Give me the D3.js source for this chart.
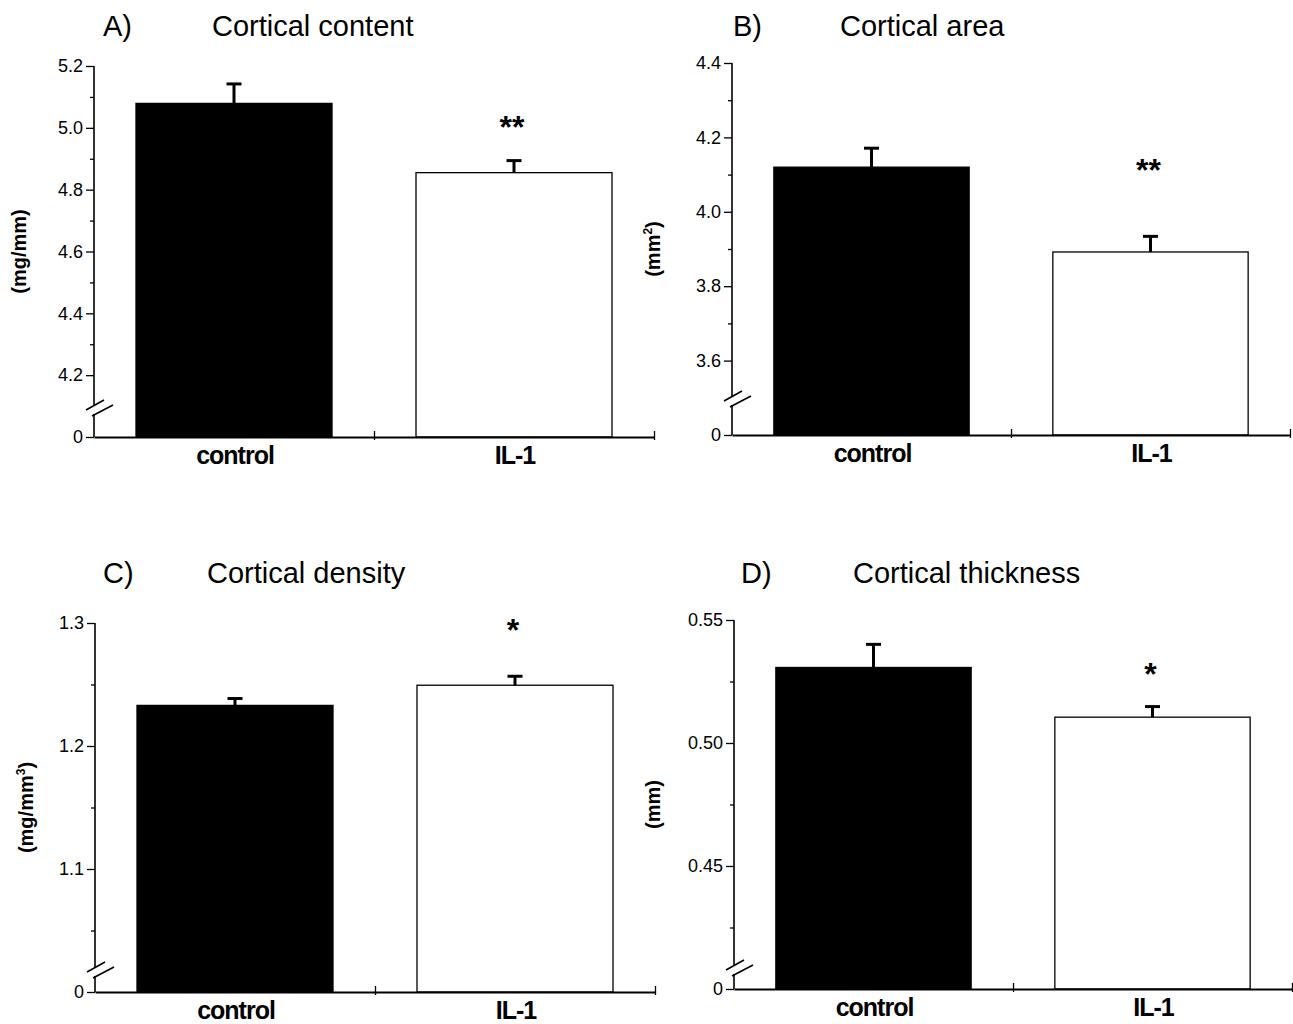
<!DOCTYPE html>
<meta charset="utf-8">
<script src="https://d3js.org/d3.v7.min.js"></script>
<style>
  body { margin: 0; background: #fff; }
  text { font-family: "Liberation Sans", Arial, sans-serif; fill: #000; }
</style>
<div id="fig"></div>
<script>

// groups on the x axis
var groups = ["control", "IL-1"];

// panel headings
var letters = ["A)", "B)", "C)", "D)"];
var titles = ["Cortical content", "Cortical area", "Cortical density", "Cortical thickness"];
var unitBase = ["(mg/mm", "(mm", "(mg/mm", "(mm"];
var unitSup = ["", "2", "3", ""];

// means and SEM (control, IL-1)
var contentMean = [5.079, 4.855], contentSem = [0.063, 0.039];
var areaMean = [4.120, 3.892], areaSem = [0.051, 0.042];
var densityMean = [1.2330, 1.2494], densitySem = [0.0056, 0.0073];
var thickMean = [0.5307, 0.5105], thickSem = [0.0094, 0.0043];

// y axis: broken axis, bottom labelled "0"
var yDomains = [[4.0, 5.2], [3.4, 4.4], [1.0, 1.3], [0.40, 0.55]];
var yTicks = [[4.2, 4.4, 4.6, 4.8, 5.0, 5.2], [3.6, 3.8, 4.0, 4.2, 4.4], [1.1, 1.2, 1.3], [0.45, 0.50, 0.55]];
var yMinor = [[4.3, 4.5, 4.7, 4.9, 5.1], [3.7, 3.9, 4.1, 4.3], [1.05, 1.15, 1.25], [0.425, 0.475, 0.525]];
var tickFormats = [".1f", ".1f", ".1f", ".2f"];

// significance marks over IL-1 and the level they sit at
var sigMarks = ["**", "**", "*", "*"];
var sigLevel = [5.025, 4.132, 1.2998, 0.5307];

var means = [contentMean, areaMean, densityMean, thickMean];
var sems = [contentSem, areaSem, densitySem, thickSem];

// panel frames
var frames = [
  {x0: 94,  x1: 654,  top: 66,  bottom: 437, titleY: 36,  letterX: 103, titleX: 212, unitX: 26,  brk: 28},
  {x0: 732, x1: 1290, top: 63,  bottom: 435, titleY: 36,  letterX: 733, titleX: 840, unitX: 660, brk: 35},
  {x0: 95,  x1: 655,  top: 623, bottom: 992, titleY: 583, letterX: 103, titleX: 207, unitX: 33,  brk: 21},
  {x0: 734, x1: 1292, top: 620, bottom: 989, titleY: 583, letterX: 741, titleX: 853, unitX: 660, brk: 20}
];

var svg = d3.select("#fig")
  .append("svg")
    .attr("width", 1293)
    .attr("height", 1024)
    .style("background", "#fff");

for (var i = 0; i < 4; i++) drawPanel(i);

function drawPanel(i) {
  var f = frames[i];
  var g = svg.append("g");

  var y = d3.scaleLinear().domain(yDomains[i]).range([f.bottom, f.top]);
  var x = d3.scaleBand().domain(groups).range([f.x0, f.x1])
    .paddingInner(0.3).paddingOuter(0.15);

  // titles
  g.append("text")
    .attr("x", f.letterX).attr("y", f.titleY)
    .style("font-size", "29px")
    .text(letters[i]);
  g.append("text")
    .attr("x", f.titleX).attr("y", f.titleY)
    .style("font-size", "29px")
    .text(titles[i]);

  // unit label
  var ut = g.append("text")
    .attr("transform", "translate(" + f.unitX + "," + ((f.top + f.bottom) / 2) + ") rotate(-90)")
    .attr("text-anchor", "middle")
    .style("font-size", "20px")
    .style("font-weight", "bold");
  ut.append("tspan").text(unitBase[i]);
  if (unitSup[i]) {
    ut.append("tspan").attr("dy", -8).style("font-size", "12px").text(unitSup[i]);
    ut.append("tspan").attr("dy", 8).text(")");
  } else {
    ut.append("tspan").text(")");
  }

  // bars
  g.selectAll("rect.bar")
    .data(groups)
    .enter()
    .append("rect")
      .attr("class", "bar")
      .attr("x", function(d) { return x(d); })
      .attr("width", x.bandwidth())
      .attr("y", function(d, j) { return y(means[i][j]); })
      .attr("height", function(d, j) { return f.bottom - y(means[i][j]); })
      .attr("fill", function(d, j) { return j == 0 ? "#000" : "#fff"; })
      .attr("stroke", "#000")
      .attr("stroke-width", 1.3);

  // error bars (upper only)
  groups.forEach(function(d, j) {
    var cx = x(d) + x.bandwidth() / 2;
    var yTopErr = y(means[i][j] + sems[i][j]);
    g.append("line")
      .attr("x1", cx).attr("x2", cx)
      .attr("y1", y(means[i][j])).attr("y2", yTopErr)
      .attr("stroke", "#000").attr("stroke-width", 3);
    g.append("line")
      .attr("x1", cx - 7.5).attr("x2", cx + 7.5)
      .attr("y1", yTopErr).attr("y2", yTopErr)
      .attr("stroke", "#000").attr("stroke-width", 3);
  });

  // significance
  g.append("text")
    .attr("x", x("IL-1") + x.bandwidth() / 2 - 2)
    .attr("y", y(sigLevel[i]) + 18)
    .attr("text-anchor", "middle")
    .style("font-size", "32px")
    .style("font-weight", "bold")
    .text(sigMarks[i]);

  // y axis, major + minor ticks
  var fmt = d3.format(tickFormats[i]);
  var yAxis = g.append("g")
    .attr("transform", "translate(" + f.x0 + ",0)")
    .call(d3.axisLeft(y)
      .tickValues([yDomains[i][0]].concat(yTicks[i]))
      .tickSize(8)
      .tickPadding(3)
      .tickFormat(function(d) { return d === yDomains[i][0] ? "0" : fmt(d); }));
  yAxis.select(".domain").remove();
  yAxis.selectAll("line").attr("stroke-width", 1.3);
  yAxis.selectAll("text")
    .attr("font-size", null)
    .style("font-size", "18px")
    .style("font-family", "'Liberation Sans', Arial, sans-serif");

  var yMin = g.append("g")
    .attr("transform", "translate(" + f.x0 + ",0)")
    .call(d3.axisLeft(y).tickValues(yMinor[i]).tickSize(4).tickFormat(""));
  yMin.select(".domain").remove();
  yMin.selectAll("line").attr("stroke-width", 1.3);

  // axis line with a break
  var by = f.bottom - f.brk;
  g.append("line")
    .attr("x1", f.x0).attr("x2", f.x0)
    .attr("y1", f.top).attr("y2", by - 4)
    .attr("stroke", "#000").attr("stroke-width", 1.6);
  g.append("line")
    .attr("x1", f.x0).attr("x2", f.x0)
    .attr("y1", by + 5).attr("y2", f.bottom)
    .attr("stroke", "#000").attr("stroke-width", 1.6);
  g.append("line")
    .attr("x1", f.x0 - 8).attr("x2", f.x0 + 10)
    .attr("y1", by + 1).attr("y2", by - 9)
    .attr("stroke", "#000").attr("stroke-width", 1.6);
  g.append("line")
    .attr("x1", f.x0 - 2).attr("x2", f.x0 + 19)
    .attr("y1", by + 7).attr("y2", by - 4)
    .attr("stroke", "#000").attr("stroke-width", 1.6);

  // x axis
  var xPos = d3.scaleLinear().domain([0, 2]).range([f.x0, f.x1]);
  var xAxis = g.append("g")
    .attr("transform", "translate(0," + f.bottom + ")")
    .call(d3.axisBottom(xPos).tickValues([1, 2]).tickSize(-6).tickSizeOuter(0).tickFormat(""));
  xAxis.select(".domain").attr("stroke-width", 2);
  xAxis.selectAll(".tick line").attr("stroke-width", 1.3).attr("y2", -6).attr("y1", 3);

  g.selectAll("text.cat")
    .data(groups)
    .enter()
    .append("text")
      .attr("class", "cat")
      .attr("x", function(d) { return x(d) + x.bandwidth() / 2 + 1; })
      .attr("y", f.bottom + 27)
      .attr("text-anchor", "middle")
      .style("font-size", "25px")
      .style("font-weight", "bold")
      .style("letter-spacing", "-1px")
      .text(function(d) { return d; });
}

</script>
